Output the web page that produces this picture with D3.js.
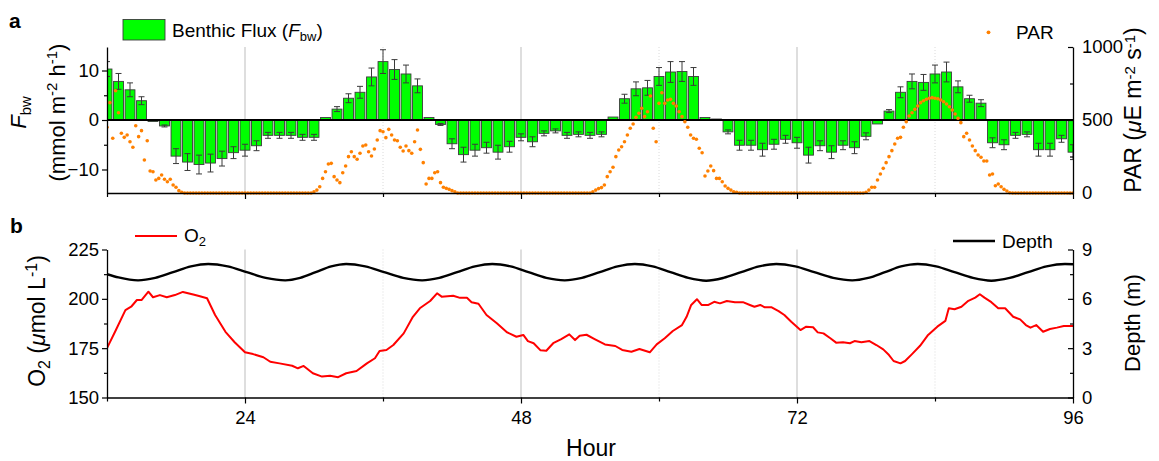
<!DOCTYPE html>
<html><head><meta charset="utf-8">
<script src="https://cdn.jsdelivr.net/npm/d3@7"></script>
<style>
body{margin:0;background:#fff}
svg{display:block}
text{font-family:Arial,"Liberation Sans",sans-serif;fill:#000}
</style>
</head><body>
<svg id="c" width="1159" height="461"></svg>
<script>
// ---------- DATA ----------
const fluxHours = [12,13,14,15,16,17,18,19,20,21,22,23,24,25,26,27,28,29,30,31,32,33,34,35,36,37,38,39,40,41,42,43,44,45,46,47,48,49,50,51,52,53,54,55,56,57,58,59,60,61,62,63,64,65,66,67,68,69,70,71,72,73,74,75,76,77,78,79,80,81,82,83,84,85,86,87,88,89,90,91,92,93,94,95,96];
const fluxValues = [10.3,7.8,6.1,3.9,-0.3,-1.2,-7.3,-8.5,-9.0,-8.7,-7.8,-6.6,-6.1,-5.2,-3.1,-3.1,-3.1,-3.5,-3.5,0.5,2.2,4.4,5.6,8.7,11.8,10.2,9.3,6.9,0.5,-0.9,-4.8,-7.0,-6.1,-5.6,-6.5,-5.4,-3.5,-4.4,-2.7,-2.2,-3.1,-2.9,-3.1,-2.9,0.6,4.3,6.3,6.5,8.8,9.7,9.8,8.8,0.5,0.2,-2.4,-5.1,-5.1,-6.0,-4.9,-3.9,-4.6,-7.1,-5.2,-6.5,-5.1,-5.6,-3.3,-0.8,1.8,5.6,7.8,7.6,9.3,9.7,6.7,4.3,3.4,-4.6,-5.0,-3.1,-2.9,-6.0,-6.0,-3.8,-6.5];
const fluxErrors = [1.5,1.6,1.4,0.8,0.1,0.2,1.5,1.7,1.9,1.8,1.5,1.2,1.2,1.0,0.6,0.6,0.6,0.6,0.6,0.1,0.5,0.9,1.2,1.8,2.4,2.0,1.8,1.4,0.1,0.2,1.0,1.5,1.2,1.1,1.4,1.1,0.7,1.0,0.5,0.4,0.6,0.5,0.6,0.5,0.1,0.9,1.4,1.5,1.8,2.1,2.0,1.8,0.1,0.05,0.4,1.0,1.0,1.3,1.0,0.8,1.1,1.6,1.0,1.3,0.9,1.2,0.7,0.1,0.3,1.1,1.5,1.6,1.8,2.0,1.2,0.7,0.7,1.0,1.0,0.6,0.5,1.3,1.3,0.7,1.5];

// PAR every 15 min from hour 12
const parStartHour = 12;
const parStepHours = 0.25;
const parValues = [
450,619,375,700,550,409,381,397,351,313,461,386,427,226,358,151,146,89,100,123,94,77,94,55,39,16,5,
0,0,0,0,0,0,0,0,0,0,0,0,0,0,0,0,0,0,0,0,0,0,0,0,0,0,0,0,0,0,0,0,0,0,0,0,0,0,0,0,0,0,0,0,0,
9,20,43,100,146,199,203,112,89,71,139,185,249,283,249,231,272,322,329,283,253,301,363,427,420,379,436,397,363,358,313,288,322,290,272,351,432,299,208,62,100,100,139,146,71,39,32,25,16,9,
0,0,0,0,0,0,0,0,0,0,0,0,0,0,0,0,0,0,0,0,0,0,0,0,0,0,0,0,0,0,0,0,0,0,0,0,0,0,0,0,0,0,0,0,0,0,0,
9,20,30,37,55,112,146,176,249,295,317,351,397,443,473,519,546,580,523,557,664,443,351,614,687,614,637,642,614,596,557,523,488,450,397,375,368,306,276,116,151,185,153,100,100,77,48,32,20,9,5,
0,0,0,0,0,0,0,0,0,0,0,0,0,0,0,0,0,0,0,0,0,0,0,0,0,0,0,0,0,0,0,0,0,0,0,0,0,0,0,0,0,0,0,0,
5,20,39,39,89,130,169,208,249,290,336,375,381,450,488,527,550,573,596,619,632,642,649,653,649,646,637,625,610,591,569,541,512,482,386,409,363,322,290,260,245,219,219,123,130,50,62,43,25,14,2,
0,0,0,0,0,0,0,0,0,0,0,0,0,0,0,0,0,0,0,0,0,0
];

const o2Hours = [12.0,12.7,13.6,14.1,14.6,15.0,15.6,16.0,16.6,17.2,17.9,18.6,19.5,20.0,20.7,21.4,22.3,23.1,24.0,24.7,25.6,26.2,27.0,28.1,28.6,29.1,29.9,30.7,31.4,32.1,32.8,33.7,34.6,35.3,35.7,36.3,36.9,37.8,38.6,39.2,40.1,40.7,41.1,42.1,42.7,43.3,43.7,44.3,45.0,45.9,46.8,47.6,48.2,48.6,49.1,49.7,50.2,50.8,51.5,52.2,52.7,53.1,53.7,54.4,55.3,56.2,56.8,57.6,58.3,59.2,59.8,60.5,61.2,62.0,62.4,62.8,63.3,63.7,64.3,64.8,65.3,65.9,66.6,67.3,67.9,68.3,68.8,69.2,69.8,70.4,70.9,71.5,72.3,72.8,73.4,73.8,74.3,74.9,75.4,76.0,76.6,77.0,77.6,78.3,78.9,79.5,80.0,80.4,81.0,81.4,82.0,82.7,83.4,84.2,84.9,85.2,85.7,86.3,86.9,87.5,87.9,88.3,88.9,89.5,90.1,90.8,91.4,91.9,92.3,92.8,93.4,94.0,94.6,95.2,96.0];
const o2Values = [175,183.3,194.3,196,199.4,199.4,203.6,200.8,201.9,200.8,201.9,203.5,202.2,201.4,200.3,191.8,183.3,178,172.9,172,170.4,168.1,167.3,166.1,164.8,166,162.3,160.6,161,160.3,162.3,163.4,167.3,169.9,173.6,174.1,176.6,182.5,190.9,195.2,198.9,202.8,201.1,201.6,200.5,200.5,198.3,197.5,191.8,187.6,183,180.8,181.7,178.6,177.5,173.9,173.7,177.5,179.6,182,179.1,181.3,181.8,179.6,176.9,176.1,174.1,173.2,174.6,172.9,176.9,180,183.7,186.7,190.9,196.9,199.8,196.9,196.9,198.5,197.7,198.9,198.3,198.3,196.9,196,196.9,195.7,195.7,193.8,191.8,188.4,184.2,185.9,185.6,183,182.5,180,177.8,178,177.5,178.6,178,178.6,176.6,174.4,171.5,168.5,167.3,168.5,172,176.2,181.7,185.9,188.8,195.2,194.7,196,199,200.6,202.3,200.6,198.3,195.2,195.2,190.9,189.6,186.7,185.4,186.7,183.3,184.7,185.4,186.2,186.2];

const depthHours = [12,13,14.7,16.2,17.75,19.3,20.8,22.5,24.15,25.8,27.5,28.8,30.15,31.5,32.8,34.45,36.1,37.75,39.4,40.9,42.45,44.0,45.5,47.1,48.65,50.2,51.8,53.3,54.85,56.4,57.9,59.45,61.0,62.55,64.1,65.6,67.15,68.7,70.2,71.85,73.5,75.15,76.8,78.2,79.65,81.05,82.5,84.1,85.7,87.3,88.9,90.5,92.1,93.7,95.3,96];
const depthValues = [7.50,7.30,7.12,7.27,7.62,7.97,8.12,7.97,7.62,7.27,7.12,7.27,7.62,7.97,8.12,7.97,7.62,7.27,7.12,7.27,7.62,7.97,8.12,7.97,7.62,7.27,7.12,7.27,7.62,7.97,8.12,7.97,7.62,7.27,7.10,7.27,7.62,7.97,8.12,7.97,7.62,7.27,7.12,7.27,7.62,7.97,8.12,7.97,7.62,7.27,7.10,7.27,7.62,7.97,8.12,8.10];

const xMajorTicks = [24,48,72,96];
const xMinorTicks = [12,36,60,84];
const fluxMajorTicks = [-10,0,10];
const fluxMinorTicks = [-5,5];
const parMajorTicks = [0,500,1000];
const parMinorTicks = [250,750];
const o2MajorTicks = [150,175,200,225];
const o2MinorTicks = [162.5,187.5,212.5];
const depthMajorTicks = [0,3,6,9];
const depthMinorTicks = [1.5,4.5,7.5];

// ---------- CHART ----------
const svg = d3.select("#c");
const L = 107, R = 1073;
const aTop = 47, aBot = 193, bTop = 249.5, bBot = 397.5;
const x = d3.scaleLinear().domain([12,96]).range([L,R]);
const yF = d3.scaleLinear().domain([-14.75,14.75]).range([aBot,aTop]);
const yP = d3.scaleLinear().domain([0,1000]).range([aBot,aTop]);
const yO = d3.scaleLinear().domain([150,225]).range([bBot,bTop]);
const yD = d3.scaleLinear().domain([0,9]).range([bBot,bTop]);

const defs = svg.append("defs");
defs.append("clipPath").attr("id","clipA").append("rect").attr("x",L).attr("y",aTop-20).attr("width",R-L).attr("height",aBot-aTop+40);
defs.append("clipPath").attr("id","clipB").append("rect").attr("x",L).attr("y",bTop-10).attr("width",R-L).attr("height",bBot-bTop+20);

// grid lines
function grid(top,bot){
  const g = svg.append("g");
  g.selectAll("line.s").data([24,48,72]).join("line")
    .attr("x1",d=>x(d)).attr("x2",d=>x(d)).attr("y1",top).attr("y2",bot)
    .attr("stroke","#bdbdbd").attr("stroke-width",1);
  g.selectAll("line.d").data([36,60,84]).join("line")
    .attr("x1",d=>x(d)).attr("x2",d=>x(d)).attr("y1",top).attr("y2",bot)
    .attr("stroke","#d0d0d0").attr("stroke-width",0.8).attr("stroke-dasharray","1,2");
}
grid(aTop,aBot);
grid(bTop,bBot);

// bars
const fluxData = fluxHours.map((h,i)=>({h,v:fluxValues[i],e:fluxErrors[i]}));
const bw = 0.86;
const gBars = svg.append("g").attr("clip-path","url(#clipA)");
gBars.selectAll("rect").data(fluxData).join("rect")
  .attr("x",d=>x(d.h-bw/2)).attr("width",x(bw)-x(0))
  .attr("y",d=>yF(Math.max(0,d.v))).attr("height",d=>Math.abs(yF(d.v)-yF(0)))
  .attr("fill","#00ff00").attr("stroke","#3c3c3c").attr("stroke-width",0.9);
const gErr = gBars.append("g").attr("stroke","#3a3a3a").attr("stroke-width",1);
fluxData.forEach(d=>{
  if (d.e < 0.15) return;
  const cx = x(d.h), y1 = yF(d.v-d.e), y2 = yF(d.v+d.e);
  gErr.append("line").attr("x1",cx).attr("x2",cx).attr("y1",y1).attr("y2",y2);
  gErr.append("line").attr("x1",cx-3).attr("x2",cx+3).attr("y1",y1).attr("y2",y1);
  gErr.append("line").attr("x1",cx-3).attr("x2",cx+3).attr("y1",y2).attr("y2",y2);
});
// zero line
svg.append("line").attr("x1",L).attr("x2",R).attr("y1",yF(0)).attr("y2",yF(0))
  .attr("stroke","#000").attr("stroke-width",1.8);

// PAR points
const parData = parValues.map((v,i)=>({h:parStartHour+i*parStepHours,v}));
svg.append("g").attr("clip-path","url(#clipA)").selectAll("circle").data(parData).join("circle")
  .attr("cx",d=>x(d.h)).attr("cy",d=>yP(d.v)).attr("r",1.8).attr("fill","#ff8000");

// panel b lines
svg.append("path").datum(depthHours.map((h,i)=>[h,depthValues[i]]))
  .attr("clip-path","url(#clipB)")
  .attr("d",d3.line().x(d=>x(d[0])).y(d=>yD(d[1])).curve(d3.curveMonotoneX))
  .attr("fill","none").attr("stroke","#000").attr("stroke-width",2.4);
svg.append("path").datum(o2Hours.map((h,i)=>[h,o2Values[i]]))
  .attr("clip-path","url(#clipB)")
  .attr("d",d3.line().x(d=>x(d[0])).y(d=>yO(d[1])))
  .attr("fill","none").attr("stroke","#ff0000").attr("stroke-width",2).attr("stroke-linejoin","round");

// axes
const FONT = 'Arial,"Liberation Sans",sans-serif';
function styleAxis(g){
  g.selectAll("path.domain").attr("stroke","#000").attr("stroke-width",1.3);
  g.selectAll(".tick line").attr("stroke","#000").attr("stroke-width",1.2);
  g.selectAll("text").attr("font-size",18.5).attr("font-family",FONT).attr("fill","#000");
}
function yAxes(scale, major, minor, xpos, side){
  const mk = side==="left" ? d3.axisLeft : d3.axisRight;
  const sz = side==="left" ? 5 : -5, szm = side==="left" ? 3 : -3;
  const g1 = svg.append("g").attr("transform",`translate(${xpos},0)`)
    .call(mk(scale).tickValues(major).tickSize(sz).tickSizeOuter(0).tickPadding(side==="left"?3:9).tickFormat(d3.format("d")));
  styleAxis(g1);
  const g2 = svg.append("g").attr("transform",`translate(${xpos},0)`)
    .call(mk(scale).tickValues(minor).tickSize(szm).tickSizeOuter(0).tickFormat(""));
  styleAxis(g2); g2.select("path.domain").remove();
}
function xAxes(ypos, labels){
  const g1 = svg.append("g").attr("transform",`translate(0,${ypos})`)
    .call(d3.axisBottom(x).tickValues(xMajorTicks).tickSize(6).tickSizeOuter(0).tickPadding(7).tickFormat(labels?d3.format("d"):""));
  styleAxis(g1);
  const g2 = svg.append("g").attr("transform",`translate(0,${ypos})`)
    .call(d3.axisBottom(x).tickValues(xMinorTicks).tickSize(4).tickSizeOuter(0).tickFormat(""));
  styleAxis(g2); g2.select("path.domain").remove();
}
xAxes(aBot,false);
xAxes(bBot,true);
yAxes(yF, fluxMajorTicks, fluxMinorTicks, L, "left");
yAxes(yP, parMajorTicks, parMinorTicks, R, "right");
yAxes(yO, o2MajorTicks, o2MinorTicks, L, "left");
yAxes(yD, depthMajorTicks, depthMinorTicks, R, "right");

// ---------- TEXT ----------
svg.append("text").attr("x",9).attr("y",28).attr("font-size",21).attr("font-weight","bold").text("a");
svg.append("text").attr("x",10).attr("y",233).attr("font-size",21).attr("font-weight","bold").text("b");

// legend a
svg.append("rect").attr("x",123).attr("y",19.5).attr("width",42).attr("height",20.5)
  .attr("fill","#00ff00").attr("stroke","#3c3c3c").attr("stroke-width",0.9);
const lt = svg.append("text").attr("x",172).attr("y",36.5).attr("font-size",19);
lt.append("tspan").text("Benthic Flux (");
lt.append("tspan").attr("font-style","italic").text("F");
lt.append("tspan").attr("font-size",13).attr("dy",4).text("bw");
lt.append("tspan").attr("dy",-4).text(")");

svg.append("circle").attr("cx",988.5).attr("cy",32.3).attr("r",1.9).attr("fill","#ff8000");
svg.append("text").attr("x",1016).attr("y",38.5).attr("font-size",19).text("PAR");

// legend b
svg.append("line").attr("x1",135).attr("x2",177).attr("y1",236).attr("y2",236).attr("stroke","#ff0000").attr("stroke-width",2);
const lo = svg.append("text").attr("x",184).attr("y",242).attr("font-size",19);
lo.append("tspan").text("O");
lo.append("tspan").attr("font-size",13).attr("dy",4).text("2");
svg.append("line").attr("x1",953).attr("x2",995).attr("y1",241).attr("y2",241).attr("stroke","#000").attr("stroke-width",2.4);
svg.append("text").attr("x",1002).attr("y",247.5).attr("font-size",19).text("Depth");

// axis titles
const t1 = svg.append("text").attr("transform","translate(26,112.5) rotate(-90)").attr("text-anchor","middle").attr("font-size",22);
t1.append("tspan").attr("font-style","italic").text("F");
t1.append("tspan").attr("font-size",15).attr("dy",5).text("bw");

const t2 = svg.append("text").attr("transform","translate(65,112.5) rotate(-90)").attr("text-anchor","middle").attr("font-size",22);
t2.append("tspan").text("(mmol m");
t2.append("tspan").attr("font-size",15).attr("dy",-8).text("-2");
t2.append("tspan").attr("dy",8).text(" h");
t2.append("tspan").attr("font-size",15).attr("dy",-8).text("-1");
t2.append("tspan").attr("dy",8).text(")");

const t3 = svg.append("text").attr("transform","translate(45,321) rotate(-90)").attr("text-anchor","middle").attr("font-size",23);
t3.append("tspan").text("O");
t3.append("tspan").attr("font-size",16).attr("dy",5).text("2");
t3.append("tspan").attr("dy",-5).text(" (");
t3.append("tspan").attr("font-style","italic").text("\u03bc");
t3.append("tspan").text("mol L");
t3.append("tspan").attr("font-size",16).attr("dy",-8).text("-1");
t3.append("tspan").attr("dy",8).text(")");

const t4 = svg.append("text").attr("transform","translate(1141,110) rotate(-90)").attr("text-anchor","middle").attr("font-size",23);
t4.append("tspan").text("PAR (");
t4.append("tspan").attr("font-style","italic").text("\u03bc");
t4.append("tspan").text("E m");
t4.append("tspan").attr("font-size",15).attr("dy",-6.5).text("-2");
t4.append("tspan").attr("dy",6.5).text(" s");
t4.append("tspan").attr("font-size",15).attr("dy",-6.5).text("-1");
t4.append("tspan").attr("dy",6.5).text(")");

svg.append("text").attr("transform","translate(1140,323) rotate(-90)").attr("text-anchor","middle").attr("font-size",22).text("Depth (m)");

svg.append("text").attr("x",591).attr("y",456).attr("text-anchor","middle").attr("font-size",23).text("Hour");
</script>
</body></html>
